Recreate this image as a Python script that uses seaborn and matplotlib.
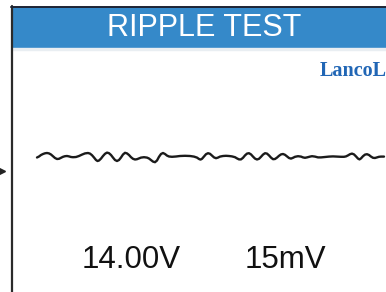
import matplotlib
matplotlib.use("Agg")
import matplotlib.pyplot as plt
import matplotlib.patches as mpatches
import seaborn as sns
import pandas as pd

# screen texts
title = "RIPPLE TEST"
brand = "LancoL"
voltage_label = "14.00V"
ripple_label = "15mV"

# ripple trace (pixel columns / rows)
trace_x = [37, 39, 41, 43, 45, 47, 49, 51, 53, 55, 57, 59, 61, 63, 65, 67, 69, 71,
           73, 76, 79, 82, 85, 88, 90, 92, 94, 96, 97.5, 99, 101, 103, 105, 107, 109,
           111, 113, 115, 117, 119, 121, 123, 125, 127, 129, 131, 133, 135, 137, 139,
           141, 144, 147, 149, 151, 153, 155, 157, 159, 161, 163, 165, 167, 169, 172,
           176, 180, 185, 190, 194, 197, 199, 200.5, 202, 204, 206, 208, 210, 212, 214,
           216, 218, 220, 223, 226, 229, 232, 235, 237, 239, 241, 243, 245, 247, 249,
           251, 253, 255, 257, 259, 261, 263, 265, 267, 269, 271, 273, 275, 277, 279,
           281, 283, 285, 287, 289, 291, 293, 295, 298, 301, 303, 305, 307, 310, 312,
           315, 318, 321, 325, 329, 333, 337, 341, 344, 346, 348, 350, 352, 354, 356,
           358, 359.5, 361, 363, 365, 367, 369, 371, 373, 375, 377, 379, 381, 384]
trace_y = [157.5, 156.5, 155, 154, 153.3, 153, 153.4, 154.5, 156.2, 158, 159, 158.8,
           157.8, 156.8, 156.2, 156, 156.4, 157, 157.2, 157, 156, 154.6, 153.4, 153,
           153.6, 155.2, 157.5, 160, 161, 160.5, 158.6, 156, 153.8, 152.6, 153.2, 155,
           157.6, 160, 161, 160, 157.5, 154.5, 152.8, 153.4, 155, 157.2, 158.8, 159.5,
           159.2, 158.4, 157.6, 157.2, 157.6, 158.5, 160, 161.6, 162.2, 160.5, 156.8,
           154, 153, 154, 155.6, 156.5, 156.8, 156.5, 156, 155.8, 156, 156.6, 157.6,
           159, 159.6, 158.8, 156.5, 154.2, 153.2, 153.8, 155.6, 157.4, 158.2, 157.6,
           156.6, 156, 155.8, 156, 156.4, 157.2, 158.4, 159.4, 159.4, 157.8, 155.4,
           153.6, 153.2, 154.4, 156.6, 158.6, 159.5, 158.8, 156.8, 154.6, 153.2, 153.6,
           155.4, 157.6, 159.2, 159, 157.6, 155.8, 154.4, 154, 154.8, 156.4, 158, 158.6,
           157.8, 156.8, 156.2, 156.6, 157.4, 157.8, 157.4, 156.6, 156.2, 156.6, 157.4,
           157.4, 157, 156.6, 156.4, 156.6, 156.8, 156.8, 156.4, 155.4, 154.2, 153.6,
           154.4, 156.4, 158.6, 159.4, 158.4, 156.2, 154.6, 154.2, 155, 156.6, 157.8,
           158, 157.4, 156.8, 156.6, 156.6]

trace = pd.DataFrame({"x": trace_x, "y": trace_y})

sns.set_style("white")
plt.rcParams['font.family'] = ['Liberation Sans', 'DejaVu Sans']

fig = plt.figure(figsize=(3.86, 2.92), dpi=100)
ax = fig.add_axes([0, 0, 1, 1])

# header bar and frame
ax.add_patch(mpatches.Rectangle((12, 7), 374, 41, color="#3589c9", zorder=1))
ax.add_patch(mpatches.Rectangle((12, 48), 374, 2, color="#e9eef2", zorder=1))
ax.plot([11.5, 11.5], [6, 292], color="#2b2b2b", lw=1.6, zorder=2)
ax.plot([11, 386], [6.5, 6.5], color="#1e2433", lw=1.4, zorder=2)
ax.plot([2], [171], marker=">", ms=4, color="#222222")

ax.text(204, 28, title, color="white", fontsize=22, ha="center", va="center")
ax.text(320, 71.5, brand, color="#2166b5", fontsize=14.5, fontweight="bold",
        family=["Liberation Serif", "DejaVu Serif"], ha="left", va="center",
        clip_on=True)

sns.lineplot(data=trace, x="x", y="y", ax=ax, color="#1b1b1b", lw=1.7,
             estimator=None, sort=False)
ax.set_xlim(0, 386)
ax.set_ylim(292, 0)
ax.axis("off")

ax.text(131, 260, voltage_label, color="#111111", fontsize=22.5, ha="center", va="center")
ax.text(285.5, 260, ripple_label, color="#111111", fontsize=22.5, ha="center", va="center")

fig.savefig("out.png", dpi=100)
